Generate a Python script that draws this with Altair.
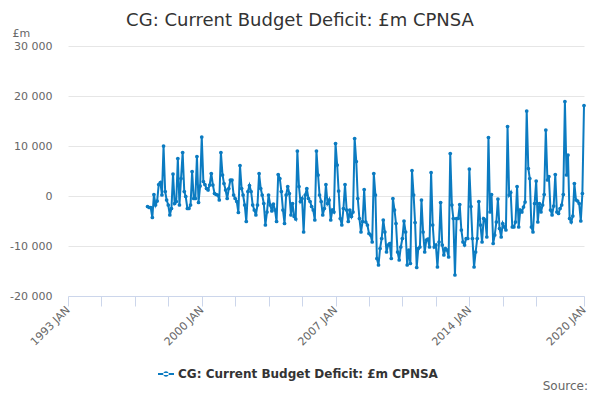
import pandas as pd
import altair as alt

SERIES = "CG: Current Budget Deficit: £m CPNSA"
BLUE = "#0b7bc1"
FONT = "DejaVu Sans"

# monthly values, £m, March 1997 to January 2020
deficit_1997 = [-2100, -2300, -2300, -4300, 300, -1800, -1000, 2300, 2700, 200]
deficit_1998 = [10000, 900, -800, -1800, -3800, -2500, 4400, -1500, -1100, 7500, -1800, 3500]
deficit_1999 = [8700, 900, -100, -2500, -2500, -1800, 4900, -500, -500, 7900, -1300, 2000]
deficit_2000 = [11800, 2900, 2300, 1500, 1200, 2200, 4500, 2200, 500, 300, 200, -800]
deficit_2001 = [8700, 4200, 2500, 1200, -500, 1500, 3200, 3200, 200, -500, -1100, -3300]
deficit_2002 = [6100, 1500, 200, -1800, -5100, 900, 2100, 900, -1800, -2800, -3800, -1800]
deficit_2003 = [4500, 1500, 200, -1500, -5800, -3200, 200, -1800, -3000, -1600, -2800, -5100]
deficit_2004 = [4300, 3500, 900, -2800, -5500, 200, 1900, 500, -3800, -1500, -4100, -4600]
deficit_2005 = [9000, 1900, -1100, -500, -7200, 200, 1500, -500, -1100, -2100, -2800, -4800]
deficit_2006 = [9000, 4200, 200, -1100, -3800, -2500, 2300, -1500, -800, -4800, -2800, -3200]
deficit_2007 = [10500, 6200, 1000, -4500, -5800, -2500, 2300, -2800, -5100, -2800, -4100, -3200]
deficit_2008 = [11500, 6900, -500, -4500, -7200, -5100, 1300, -5200, -5800, -7500, -7800, -9200]
deficit_2009 = [4500, 200, -12500, -13800, -10500, -8500, -4800, -7200, -11200, -9800, -9500, -12500]
deficit_2010 = [-500, -2800, -5500, -11200, -12800, -10200, -8500, -5000, -7200, -13800, -10800, -13500]
deficit_2011 = [5100, 200, -5300, -14300, -10500, -10200, -800, -7200, -11200, -8800, -8600, -10200]
deficit_2012 = [4700, -5800, -10200, -9800, -14200, -9200, -1300, -9800, -11800, -10500, -10800, -12200]
deficit_2013 = [8500, -1800, -4500, -15800, -4500, -4500, -1700, -6800, -9200, -9800, -8500, -8500]
deficit_2014 = [5400, -2100, -8500, -14200, -11200, -8500, -1100, -5800, -9200, -4500, -4800, -8200]
deficit_2015 = [11700, -3200, 300, -9500, -7800, -5200, -600, -6500, -8200, -5500, -6200, -6800]
deficit_2016 = [13900, 200, 700, -6200, -6200, -5200, 1900, -6200, -2800, -3200, -2200, -1200]
deficit_2017 = [17000, 5500, 3500, -6200, -7200, -1500, 3000, -5200, -1500, -3200, -1800, 300]
deficit_2018 = [13200, 3200, 3900, -2800, -3800, -2000, 4300, -3200, -3500, -2500, -1800, 300]
deficit_2019 = [18900, 4200, 8200, -4500, -5200, -4000, 2500, -800, -1000, -1500, -5000, 500]
deficit_2020 = [18100]

values = (
    deficit_1997 + deficit_1998 + deficit_1999 + deficit_2000 + deficit_2001
    + deficit_2002 + deficit_2003 + deficit_2004 + deficit_2005 + deficit_2006
    + deficit_2007 + deficit_2008 + deficit_2009 + deficit_2010 + deficit_2011
    + deficit_2012 + deficit_2013 + deficit_2014 + deficit_2015 + deficit_2016
    + deficit_2017 + deficit_2018 + deficit_2019 + deficit_2020
)

df = pd.DataFrame(
    {
        "month": pd.date_range("1997-03-01", periods=len(values), freq="MS").strftime("%Y-%m-%d"),
        "value": values,
        "series": SERIES,
    }
)

# ticks every 21 months from 1993 JAN, plus the last month
tick_months = list(pd.date_range("1993-01-01", "2017-07-01", freq="21MS")) + [pd.Timestamp("2020-01-01")]
x_ticks = [alt.DateTime(year=t.year, month=t.month, date=1, utc=True) for t in tick_months]
y_ticks = [-20000, -10000, 0, 10000, 20000, 30000]

x_label = (
    "utcmonth(datum.value) == 0 && ((utcyear(datum.value) - 1993) % 7 == 0"
    " || utcyear(datum.value) == 2020) ? utcFormat(datum.value, '%Y') + ' JAN' : ''"
)
y_label = "(datum.value < 0 ? '-' : '') + replace(format(abs(datum.value), ','), ',', ' ')"

# short line with a dot, as in the legend of the original
legend_symbol = (
    "M-1,-0.12 L1,-0.12 L1,0.12 L-1,0.12 Z "
    "M-0.35,0 A0.35,0.35 0 1,0 0.35,0 A0.35,0.35 0 1,0 -0.35,0 Z"
)

line = (
    alt.Chart(df)
    .mark_line(strokeWidth=2, point=alt.OverlayMarkDef(size=14, filled=True, color=BLUE))
    .encode(
        x=alt.X(
            "month:T",
            title=None,
            scale=alt.Scale(
                type="utc",
                domain=[
                    alt.DateTime(year=1993, month=1, date=1, utc=True),
                    alt.DateTime(year=2020, month=1, date=1, utc=True),
                ],
            ),
            axis=alt.Axis(
                values=x_ticks,
                labelExpr=x_label,
                labelAngle=315,
                labelAlign="right",
                labelBaseline="middle",
                labelOverlap=False,
                labelFlush=False,
                labelPadding=2,
                labelColor="#666666",
                labelFont=FONT,
                labelFontSize=11,
                grid=False,
                domainColor="#ccd6eb",
                tickColor="#ccd6eb",
                tickSize=10,
            ),
        ),
        y=alt.Y(
            "value:Q",
            scale=alt.Scale(domain=[-20000, 30000], nice=False),
            axis=alt.Axis(
                values=y_ticks,
                labelExpr=y_label,
                title="£m",
                titleAngle=0,
                titleAlign="left",
                titleBaseline="alphabetic",
                titleX=-56,
                titleY=-10,
                titleFont=FONT,
                titleFontSize=11,
                titleFontWeight="normal",
                titleColor="#666666",
                labelColor="#666666",
                labelFont=FONT,
                labelFontSize=11,
                labelPadding=16,
                domain=False,
                ticks=False,
                gridColor="#e6e6e6",
            ),
        ),
        color=alt.Color(
            "series:N",
            scale=alt.Scale(range=[BLUE]),
            legend=alt.Legend(
                title=None,
                orient="none",
                legendX=90,
                legendY=320,
                symbolType=legend_symbol,
                symbolSize=256,
                symbolFillColor=BLUE,
                symbolStrokeColor=BLUE,
                symbolStrokeWidth=0,
                labelFont=FONT,
                labelFontSize=12,
                labelFontWeight="bold",
                labelColor="#333333",
                labelLimit=0,
            ),
        ),
    )
)

source = (
    alt.Chart(pd.DataFrame({"text": ["Source:"]}))
    .mark_text(align="right", baseline="alphabetic", font=FONT, fontSize=12, color="#666666")
    .encode(x=alt.value(520), y=alt.value(344), text="text:N")
)

chart = (
    (line + source)
    .properties(
        width=516,
        height=250,
        padding={"left": 60, "top": 38, "right": 8, "bottom": 96},
        autosize=alt.AutoSizeParams(type="none"),
        title=alt.TitleParams(
            "CG: Current Budget Deficit: £m CPNSA",
            font=FONT,
            fontSize=18,
            fontWeight="normal",
            color="#333333",
            anchor="middle",
            dx=-26,
            dy=3,
            offset=0,
        ),
    )
    .configure_view(stroke=None)
)

chart.save("out.html", embed_options={"renderer": "svg", "actions": False})
